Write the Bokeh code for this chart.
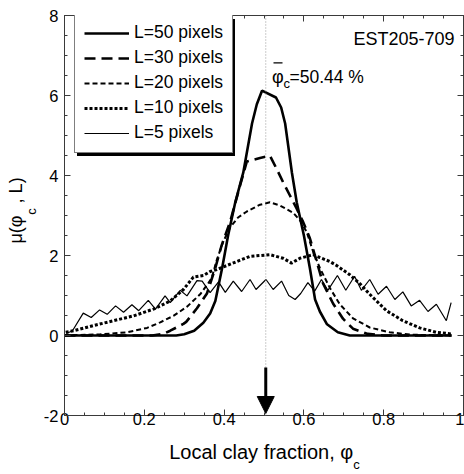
import math
from bokeh.plotting import figure
from bokeh.models import (Range1d, LinearAxis, SingleIntervalTicker, FixedTicker, Legend, LegendItem,
                          Label, Span, Arrow, NormalHead, BoxAnnotation)
from bokeh.embed import file_html
from bokeh.resources import INLINE

# ---------------- data ----------------
phi_L50 = [0.0, 0.28, 0.30, 0.325, 0.348, 0.365, 0.378, 0.395, 0.41, 0.428, 0.448, 0.47, 0.482,
           0.495, 0.53, 0.543, 0.553, 0.57, 0.582, 0.60, 0.615, 0.628, 0.64, 0.658, 0.685, 0.715, 0.97]
mu_L50 = [0.0, 0.0, 0.03, 0.12, 0.32, 0.55, 0.86, 1.68, 2.5, 3.33, 4.07, 5.3, 5.78,
          6.12, 5.95, 5.7, 5.3, 4.07, 3.33, 2.5, 1.68, 0.9, 0.6, 0.28, 0.08, 0.0, 0.0]

phi_L30 = [0.0, 0.22, 0.248, 0.265, 0.298, 0.305, 0.332, 0.357, 0.378, 0.394, 0.415, 0.44, 0.457,
           0.49, 0.515, 0.532, 0.548, 0.565, 0.582, 0.598, 0.615, 0.632, 0.648, 0.673, 0.698,
           0.723, 0.76, 0.80, 0.97]
mu_L30 = [0.0, 0.0, 0.04, 0.12, 0.29, 0.34, 0.68, 1.05, 1.69, 2.26, 2.84, 3.75, 4.35,
          4.44, 4.49, 4.16, 3.83, 3.5, 3.17, 2.84, 2.43, 1.85, 1.3, 0.8, 0.42,
          0.17, 0.04, 0.0, 0.0]

phi_L20 = [0.0, 0.09, 0.157, 0.207, 0.24, 0.273, 0.307, 0.34, 0.36, 0.369, 0.382, 0.398, 0.415,
           0.435, 0.457, 0.49, 0.515, 0.54, 0.573, 0.59, 0.607, 0.623, 0.64, 0.665, 0.69,
           0.723, 0.765, 0.815, 0.87, 0.97]
mu_L20 = [0.0, 0.03, 0.08, 0.19, 0.33, 0.49, 0.72, 1.03, 1.3, 1.44, 1.9, 2.35, 2.7,
          2.95, 3.1, 3.27, 3.33, 3.25, 3.07, 2.88, 2.59, 2.1, 1.69, 1.19, 0.78,
          0.43, 0.2, 0.08, 0.02, 0.0]

phi_L10 = [0.003, 0.023, 0.073, 0.123, 0.173, 0.223, 0.265, 0.298, 0.323, 0.348, 0.365, 0.382,
           0.432, 0.465, 0.515, 0.548, 0.569, 0.59, 0.623, 0.64, 0.665, 0.682, 0.715, 0.74,
           0.765, 0.807, 0.848, 0.89, 0.932, 0.969]
mu_L10 = [0.08, 0.12, 0.25, 0.37, 0.49, 0.66, 0.86, 1.15, 1.46, 1.5, 1.6, 1.65,
          1.85, 1.98, 2.02, 1.93, 1.81, 1.93, 2.02, 1.95, 1.85, 1.75, 1.52, 1.3,
          1.03, 0.62, 0.37, 0.19, 0.08, 0.04]

phi_L5 = [0.005, 0.02, 0.047, 0.067, 0.088, 0.107, 0.128, 0.148, 0.169, 0.186, 0.21, 0.228,
          0.252, 0.265, 0.29, 0.307, 0.332, 0.345, 0.365, 0.386, 0.403, 0.423, 0.444, 0.465,
          0.48, 0.505, 0.523, 0.544, 0.562, 0.578, 0.592, 0.61, 0.627, 0.644, 0.66, 0.684,
          0.705, 0.727, 0.744, 0.765, 0.786, 0.807, 0.828, 0.848, 0.869, 0.89, 0.911, 0.932,
          0.957, 0.969]
mu_L5 = [0.05, 0.12, 0.56, 0.45, 0.64, 0.53, 0.74, 0.58, 0.77, 0.62, 0.88, 0.66,
         0.99, 0.82, 1.13, 0.99, 1.37, 1.36, 1.07, 1.34, 1.08, 1.36, 1.1, 1.4,
         1.15, 1.4, 1.15, 1.36, 1.0, 0.9, 1.05, 1.32, 1.11, 1.4, 1.13, 1.5,
         1.13, 1.48, 1.13, 1.4, 1.03, 1.23, 0.9, 1.09, 0.74, 0.88, 0.6, 0.78,
         0.37, 0.82]

series_labels = ["L=50 pixels", "L=30 pixels", "L=20 pixels", "L=10 pixels", "L=5 pixels"]
phi_mean = 0.5044
mean_text = "=50.44 %"
sample_name = "EST205-709"

x_ticks = [0, 0.2, 0.4, 0.6, 0.8, 1.0]
x_tick_labels = ["0", "0.2", "0.4", "0.6", "0.8", "1"]
y_ticks = [-2, 0, 2, 4, 6, 8]
y_tick_labels = ["-2", "0", "2", "4", "6", "8"]

x_title = "Local clay fraction, \u03c6\u00a0"
y_title = "\u00a0\u00a0\u03bc(\u03c6\u2009\u2009 , L)"
subscript = "c"

FONT = "Liberation Sans"

# ---------------- layout helpers (pixel -> data, for annotation placement) ----------------
W, H = 464, 474
FL, FR, FT, FB = 64, 463, 15, 415   # frame edges in pixels
X0, X1, Y0, Y1 = 0.0, 1.0, -2.0, 8.0
def dx(px):
    return X0 + (px - FL) * (X1 - X0) / (FR - FL)
def dy(py):
    return Y0 + (FB - py) * (Y1 - Y0) / (FB - FT)

# ---------------- figure ----------------
p = figure(width=W, height=H, x_range=Range1d(X0, X1), y_range=Range1d(Y0, Y1),
           output_backend="svg", toolbar_location=None,
           min_border_left=FL, min_border_right=W - FR, min_border_top=FT, min_border_bottom=H - FB,
           x_axis_type=None, y_axis_type=None)
p.xgrid.visible = False
p.ygrid.visible = False
p.outline_line_color = None
p.background_fill_color = "white"
p.border_fill_color = "white"

AX_COL = "#3a3a3a"

def style_axis(ax, show_labels, overrides):
    ax.axis_line_color = AX_COL
    ax.axis_line_width = 1
    ax.major_tick_line_color = AX_COL
    ax.minor_tick_line_color = AX_COL
    ax.major_tick_in = 6
    ax.major_tick_out = 0
    ax.minor_tick_in = 3
    ax.minor_tick_out = 0
    if show_labels:
        ax.major_label_text_font = FONT
        ax.major_label_text_font_size = "16.5px"
        ax.major_label_text_color = "black"
        ax.major_label_overrides = overrides
    else:
        ax.major_label_text_font_size = "0px"
        ax.major_label_text_color = None
        ax.major_label_standoff = 0

def text_axis(ticks, label_map, font_size, standoff, orientation="horizontal"):
    ax = LinearAxis(ticker=FixedTicker(ticks=ticks, minor_ticks=[]))
    ax.axis_line_color = None
    ax.major_tick_line_color = None
    ax.minor_tick_line_color = None
    ax.major_tick_in = 0
    ax.major_tick_out = 0
    ax.minor_tick_in = 0
    ax.minor_tick_out = 0
    ax.major_label_text_font = FONT
    ax.major_label_text_font_size = font_size
    ax.major_label_text_color = "black"
    ax.major_label_overrides = label_map
    ax.major_label_standoff = standoff
    ax.major_label_orientation = orientation
    return ax

xt = SingleIntervalTicker(interval=0.2, num_minor_ticks=4)
yt = SingleIntervalTicker(interval=2, num_minor_ticks=4)
xover = {t: l for t, l in zip(x_ticks, x_tick_labels)}
yover = {t: l for t, l in zip(y_ticks, y_tick_labels)}

# bottom: ticks + title, then subscript
bx = LinearAxis(ticker=xt); style_axis(bx, True, xover)
bx.major_label_standoff = -3
bx.axis_label = x_title
bx.axis_label_text_font = FONT
bx.axis_label_text_font_size = "20px"
bx.axis_label_text_font_style = "normal"
bx.axis_label_text_color = "black"
bx.axis_label_standoff = 13
p.add_layout(bx, "below")
x_sub_pos = dx(356)
p.add_layout(text_axis([x_sub_pos], {x_sub_pos: subscript}, "13px", -9), "below")

# left: ticks, then subscript, then title
lx = LinearAxis(ticker=yt); style_axis(lx, True, yover); lx.major_label_standoff = 6
p.add_layout(lx, "left")
y_sub_pos = dy(211)
p.add_layout(text_axis([y_sub_pos], {y_sub_pos: subscript}, "13px", 2, "vertical"), "left")
ltitle = LinearAxis(ticker=FixedTicker(ticks=[], minor_ticks=[]))
ltitle.axis_line_color = None
ltitle.major_tick_line_color = None
ltitle.minor_tick_line_color = None
ltitle.major_label_text_font_size = "0px"
ltitle.major_label_text_color = None
ltitle.major_label_standoff = 0
ltitle.major_tick_out = 0
ltitle.minor_tick_out = 0
ltitle.axis_label = y_title
ltitle.axis_label_text_font = FONT
ltitle.axis_label_text_font_size = "18px"
ltitle.axis_label_text_font_style = "normal"
ltitle.axis_label_text_color = "black"
ltitle.axis_label_standoff = -5
p.add_layout(ltitle, "left")

tx = LinearAxis(ticker=xt); style_axis(tx, False, {})
rx = LinearAxis(ticker=yt); style_axis(rx, False, {})
p.add_layout(tx, "above")
p.add_layout(rx, "right")

# mean line
p.add_layout(Span(location=phi_mean, dimension="height", line_color="#9a9a9a",
                  line_dash="1 2", line_width=1))

# curves
r50 = p.line(phi_L50, mu_L50, line_color="black", line_width=2.6)
r30 = p.line(phi_L30, mu_L30, line_color="black", line_width=2.6, line_dash="11 6")
r20 = p.line(phi_L20, mu_L20, line_color="black", line_width=2.0, line_dash="5 3")
r10 = p.line(phi_L10, mu_L10, line_color="black", line_width=3.0, line_dash="3 2")
r5 = p.line(phi_L5, mu_L5, line_color="black", line_width=1.2)
rends = [r50, r30, r20, r10, r5]

# legend with drop shadow
LG_L, LG_B, LG_T, LG_R = 74, 153, 16, 232
p.add_layout(BoxAnnotation(left=dx(LG_L + 2.5), right=dx(LG_R + 2.5), top=dy(LG_T + 2.5),
                           bottom=dy(LG_B + 2.5), fill_color="black", fill_alpha=1.0,
                           line_color=None))
items = [LegendItem(label=lab, renderers=[r]) for lab, r in zip(series_labels, rends)]
legend = Legend(items=items, location=(LG_L - FL, FB - LG_B), glyph_width=45, glyph_height=20,
                label_height=20, spacing=4, padding=9, label_standoff=5, margin=0,
                border_line_color="black", border_line_width=1.5,
                background_fill_color="white", background_fill_alpha=1.0,
                label_text_font=FONT, label_text_font_size="17.5px", label_text_color="black")
p.add_layout(legend)

# texts inside the frame
p.add_layout(Label(x=dx(454), y=dy(38), text=sample_name, text_align="right", text_baseline="alphabetic",
                   text_font=FONT, text_font_size="18px", text_color="black"))
p.add_layout(Label(x=dx(271.5), y=dy(76.5), text="\u03c6", text_align="left", text_baseline="alphabetic",
                   text_font=FONT, text_font_size="18px", text_color="black"))
p.add_layout(BoxAnnotation(left=dx(273), right=dx(282), top=dy(61.8), bottom=dy(63.1),
                           fill_color="black", fill_alpha=1.0, line_color=None))
p.add_layout(Label(x=dx(283), y=dy(83), text=subscript, text_align="left", text_baseline="alphabetic",
                   text_font=FONT, text_font_size="13px", text_color="black"))
p.add_layout(Label(x=dx(289), y=dy(76.5), text=mean_text, text_align="left", text_baseline="alphabetic",
                   text_font=FONT, text_font_size="17.5px", text_color="black"))

# arrow pointing at the mean
p.add_layout(Arrow(end=NormalHead(size=17, fill_color="black", line_color="black"),
                   x_start=phi_mean, y_start=dy(367), x_end=phi_mean, y_end=dy(413),
                   line_color="black", line_width=3))

open("out.html", "w").write(file_html(p, INLINE))
